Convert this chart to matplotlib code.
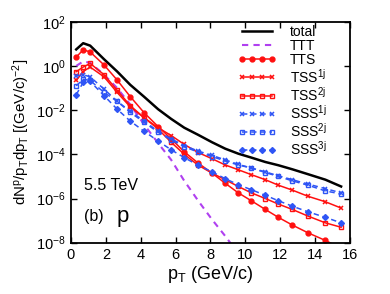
import matplotlib
matplotlib.use("Agg")
import matplotlib.pyplot as plt
from matplotlib.ticker import LogLocator, NullLocator

plt.rcParams['font.family'] = ['Liberation Sans', 'DejaVu Sans']
plt.rcParams['mathtext.fontset'] = 'custom'
plt.rcParams['mathtext.rm'] = 'Liberation Sans'
plt.rcParams['mathtext.it'] = 'Liberation Sans:italic'

# pT grid (GeV/c)
pt = [0.3, 0.7, 1.1, 1.9, 2.65, 3.4, 4.2, 5.0, 5.75, 6.5, 7.3, 8.1, 8.85, 9.6,
      10.35, 11.15, 11.9, 12.7, 13.6, 14.6, 15.5]

total = [5.6, 10.7, 8.3, 2.0, 5.6e-1, 1.4e-1, 4.0e-2, 1.1e-2, 4.0e-3, 1.6e-3,
         7.6e-4, 3.5e-4, 1.8e-4, 1.07e-4, 7.1e-5, 4.5e-5, 3.2e-5, 2.1e-5,
         1.26e-5, 7.1e-6, 3.5e-6]
ttt = [1.0, 1.6, 1.4, 4.0e-1, 1.0e-1, 1.8e-2, 2.2e-3, 3.2e-4, 5.6e-5, 6.3e-6,
       7.9e-7, 1.1e-7, 2.0e-8, 3.2e-9]
tts = [2.5, 5.4, 4.3, 1.1, 2.3e-1, 4.1e-2, 7.6e-3, 1.8e-3, 5.0e-4, 1.3e-4,
       4.0e-5, 1.4e-5, 4.9e-6, 1.8e-6, 7.9e-7, 3.2e-7, 1.4e-7, 6.3e-8,
       2.8e-8, 1.26e-8, 5.6e-9]
tss1 = [2.2e-1, 5.6e-1, 8.9e-1, 3.2e-1, 6.3e-2, 1.4e-2, 4.5e-3, 1.6e-3,
        7.1e-4, 2.8e-4, 1.2e-4, 6.3e-5, 3.3e-5, 2.0e-5, 1.2e-5, 7.1e-6,
        4.0e-6, 2.4e-6, 1.26e-6, 7.1e-7, 3.7e-7]
tss2 = [5.5e-1, 8.9e-1, 1.3, 4.0e-1, 7.9e-2, 1.6e-2, 4.5e-3, 1.4e-3, 3.5e-4,
        1.0e-4, 3.2e-5, 1.4e-5, 7.1e-6, 3.5e-6, 1.8e-6, 1.0e-6, 5.6e-7,
        3.2e-7, 1.6e-7, 7.9e-8, 5.0e-8]
sss1 = [3.5e-1, 4.0e-1, 3.2e-1, 8.9e-2, 2.5e-2, 8.9e-3, 3.2e-3, 1.1e-3,
        5.0e-4, 2.5e-4, 1.4e-4, 8.9e-5, 5.6e-5, 3.5e-5, 2.4e-5, 1.6e-5,
        1.07e-5, 7.1e-6, 4.5e-6, 2.8e-6, 1.8e-6]
sss2 = [1.26e-1, 2.5e-1, 2.2e-1, 6.3e-2, 2.5e-2, 7.9e-3, 2.8e-3, 1.0e-3,
        4.5e-4, 2.2e-4, 1.26e-4, 7.9e-5, 5.0e-5, 3.3e-5, 2.4e-5, 1.5e-5,
        1.0e-5, 6.3e-6, 4.0e-6, 2.2e-6, 1.6e-6]
sss3 = [5.0e-2, 1.8e-1, 2.0e-1, 4.5e-2, 1.1e-2, 3.2e-3, 1.1e-3, 4.0e-4,
        1.6e-4, 7.1e-5, 3.2e-5, 1.6e-5, 7.9e-6, 4.2e-6, 2.5e-6, 1.4e-6,
        7.9e-7, 4.5e-7, 2.5e-7, 1.4e-7, 7.9e-8]

red = '#ff1010'
blue = '#2f55f5'
purple = '#b040f0'

fig = plt.figure(figsize=(3.9, 2.94), dpi=100)
ax = fig.add_axes([0.182, 0.1745, 0.715, 0.7515])

ax.plot(pt, total, color='black', lw=1.8, label='total')
ax.plot(pt[:len(ttt)], ttt, color=purple, lw=1.5, ls=(0, (3, 2.5)), label='TTT')
ax.plot(pt, tts, color=red, lw=1.1, marker='o', ms=3.5, label='TTS')
ax.plot(pt, tss1, color=red, lw=1.1, marker='x', ms=3.5, mew=1.1, label='TSS$^{\\rm 1j}$')
ax.plot(pt, tss2, color=red, lw=1.1, marker='s', ms=3.2, mfc='none', mew=1.0, label='TSS$^{\\rm 2j}$')
ax.plot(pt, sss1, color=blue, lw=1.1, ls=(0, (3.5, 2.5)), marker='x', ms=3.5, mew=1.1, label='SSS$^{\\rm 1j}$')
ax.plot(pt, sss2, color=blue, lw=1.1, ls=(0, (3.5, 2.5)), marker='s', ms=3.2, mfc='none', mew=1.0, label='SSS$^{\\rm 2j}$')
ax.plot(pt, sss3, color=blue, lw=1.1, ls=(0, (3.5, 2.5)), marker='D', ms=3.0, label='SSS$^{\\rm 3j}$')

ax.set_yscale('log')
ax.set_xlim(0, 16)
ax.set_ylim(1e-8, 1e2)
ax.set_xticks([0, 2, 4, 6, 8, 10, 12, 14, 16])
ax.yaxis.set_major_locator(LogLocator(base=100.0))
ax.yaxis.set_minor_locator(NullLocator())
ax.tick_params(direction='in', top=True, right=True, length=4, width=1,
               labelsize=10.5, pad=4)
for s in ax.spines.values():
    s.set_linewidth(1.3)

ax.set_xlabel('p$_{\\rm T}$ (GeV/c)', fontsize=13, labelpad=1)
ax.set_ylabel('dN$^{\\rm p}$/p$_{\\rm T}$dp$_{\\rm T}$ [(GeV/c)$^{-2}$]',
              fontsize=10.8, labelpad=3)

ax.text(0.045, 0.26, '5.5 TeV', transform=ax.transAxes, fontsize=11.5, va='center')
ax.text(0.045, 0.12, '(b)', transform=ax.transAxes, fontsize=11.5, va='center')
ax.text(0.165, 0.12, 'p', transform=ax.transAxes, fontsize=16, va='center')

ax.legend(loc='upper left', bbox_to_anchor=(0.59, 1.0), frameon=False,
          fontsize=10, handlelength=2.7, handletextpad=1.0,
          labelspacing=0.02, numpoints=4, borderpad=0.2, borderaxespad=0)

fig.savefig('out.png', dpi=100)
